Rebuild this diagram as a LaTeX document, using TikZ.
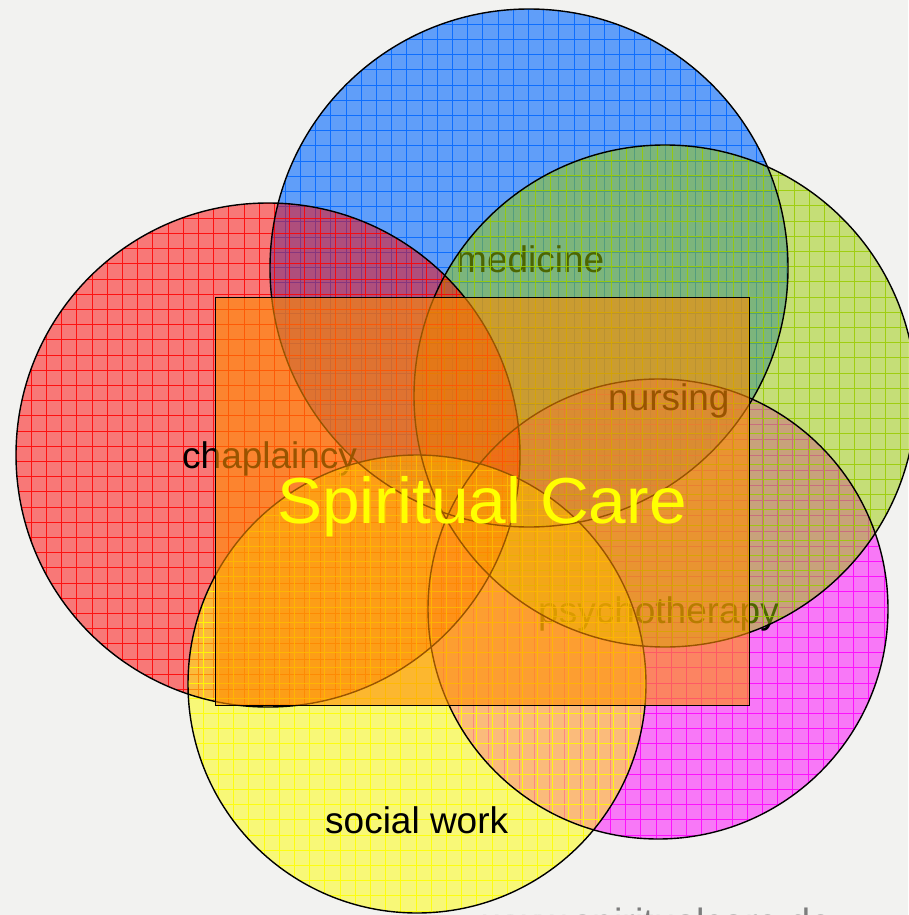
\documentclass[tikz,border=0pt]{standalone}
\usepackage{fontspec}
\setmainfont{Liberation Sans}
\definecolor{paper}{RGB}{242,242,240}
\definecolor{cblue}{RGB}{0,102,255}
\definecolor{cred}{RGB}{255,0,0}
\definecolor{cgreen}{RGB}{153,204,0}
\definecolor{cmagenta}{RGB}{255,0,255}
\definecolor{cyellow}{RGB}{255,255,0}
\definecolor{corange}{RGB}{255,140,0}
\definecolor{urlgray}{RGB}{125,125,125}
% tinted disc with a fine grid clipped to it: centre x, centre y, radius, colour, fill opacity
\newcommand\tintdisc[5]{%
  \fill[#4, fill opacity=#5] (#1,#2) circle[radius=#3];
  \begin{scope}
    \clip (#1,#2) circle[radius=#3];
    \draw[#4, line width=0.9pt, draw opacity=0.85, shift={(#1-#3,#2-#3)}, step=15.2pt]
      (0,2*#3) grid (2*#3,0);
  \end{scope}}
\begin{document}
\begin{tikzpicture}[x=1pt, y=-1pt,
  field/.style={font=\fontsize{37}{40}\selectfont, anchor=base west, inner sep=0pt, text=black},
  rim/.style={draw=black, line width=1.4pt}]
\useasboundingbox (0,0) rectangle (908,915);
\fill[paper] (0,0) rectangle (908,915);

\coordinate (cMed) at (529,268);
\coordinate (cPsy) at (658,609);
\coordinate (cNur) at (665,396);
\coordinate (cCha) at (268,455);
\coordinate (cSoc) at (417,684);

% medicine
\tintdisc{529}{268}{259}{cblue}{0.6}
\node[field] (medicine) at (456,272) {medicine};
% psychotherapy
\tintdisc{658}{609}{230}{cmagenta}{0.5}
\node[field] (psychotherapy) at (538,623) {psychotherapy};
% nursing
\tintdisc{665}{396}{251}{cgreen}{0.5}
\node[field] (nursing) at (608,410) {nursing};
% chaplaincy
\tintdisc{268}{455}{252}{cred}{0.5}
\node[field] (chaplaincy) at (182,468) {chaplaincy};
% social work
\tintdisc{417}{684}{229}{cyellow}{0.5}
\node[field] (socialwork) at (325,833) {social work};

% outlines of the five fields
\draw[rim] (cMed) circle[radius=259];
\draw[rim] (cPsy) circle[radius=230];
\draw[rim] (cNur) circle[radius=251];
\draw[rim] (cCha) circle[radius=252];
\draw[rim] (cSoc) circle[radius=229];

% the shared area
\node[draw=black, line width=1.4pt, fill=corange, fill opacity=0.6, draw opacity=1,
      minimum width=534pt, minimum height=408pt, inner sep=0pt, anchor=north west]
  (core) at (215,297) {};
\node[anchor=base west, inner sep=0pt, text=cyellow,
      font=\fontsize{65}{70}\selectfont, xscale=1.04] (title) at (277,523) {Spiritual Care};

\node[anchor=base west, inner sep=0pt, text=urlgray, font=\fontsize{38}{40}\selectfont]
  (url) at (483,935) {www.spiritualcare.de};
\end{tikzpicture}
\end{document}
